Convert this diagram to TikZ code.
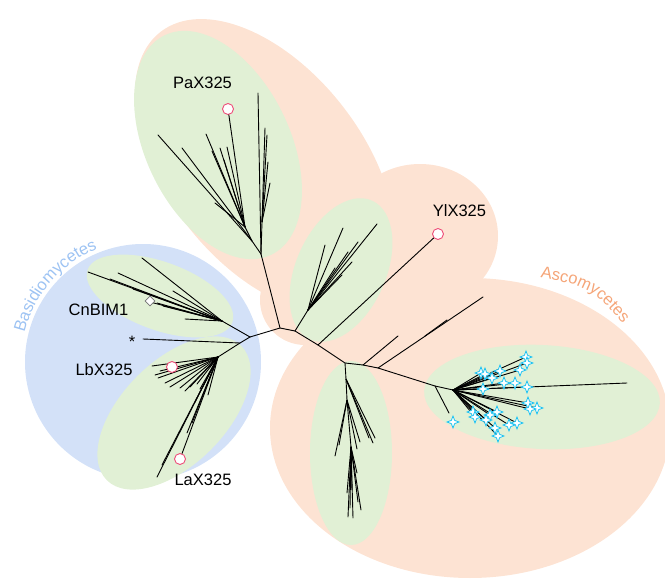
\documentclass[tikz,border=0pt]{standalone}
\usepackage{fontspec}
\setmainfont{Liberation Sans}
\usetikzlibrary{shapes.geometric,decorations.text}
\definecolor{peach}{HTML}{FDE3D3}
\definecolor{leafgreen}{HTML}{E1F0D5}
\definecolor{sky}{HTML}{D3E1F8}
\definecolor{skytext}{HTML}{9DC3F3}
\definecolor{orangetext}{HTML}{F5A578}
\definecolor{pinkring}{HTML}{EE4D78}
\definecolor{starcyan}{HTML}{1CC2F2}
\newcommand{\lblfont}{\fontsize{16.5}{19}\selectfont}
\begin{document}
\begin{tikzpicture}[x=1pt,y=-1pt,
  branch/.style={line width=0.9pt, black, line cap=round},
  ring/.style={circle, draw=pinkring, fill=white, line width=0.9pt, minimum size=11pt, inner sep=0pt},
  astar/.style={star, star points=4, star point ratio=2.6, draw=starcyan, fill=white, line width=0.8pt, minimum size=12pt, inner sep=0pt},
  dmd/.style={diamond, draw=black!55, fill=white, line width=0.6pt, minimum size=10pt, inner sep=0pt},
  lbl/.style={font=\lblfont, inner sep=0pt},
]
\useasboundingbox (0,0) rectangle (665,581);
% ---------- background regions ----------
\begin{scope}[fill=peach]
  \fill[shift={(265,166)}, rotate=-52] (0,0) ellipse [x radius=170, y radius=98];
  \fill (420,236) ellipse [x radius=78, y radius=72];
  \fill (470,428) ellipse [x radius=200, y radius=150];
  \fill (305,300) ellipse [x radius=45, y radius=45];
\end{scope}
\fill[sky] (143,362) circle [radius=118];
\begin{scope}[fill=leafgreen]
  \fill[shift={(218,145)}, rotate=-64] (0,0) ellipse [x radius=122, y radius=72];
  \fill[shift={(341,270)}, rotate=66] (0,0) ellipse [x radius=76, y radius=45];
  \fill (351,453) ellipse [x radius=41, y radius=92];
  \fill[shift={(542,397)}, rotate=-3] (0,0) ellipse [x radius=118, y radius=52];
  \fill[shift={(160,296)}, rotate=-20] (0,0) ellipse [x radius=77, y radius=34];
  \fill[shift={(174,413)}, rotate=45] (0,0) ellipse [x radius=95, y radius=52];
\end{scope}
% ---------- group labels ----------
\path[decorate, decoration={text along path, text align=center,
   text={|\lblfont\color{skytext}|Basidiomycetes}}]
   (143,362) ++(192:122) arc[start angle=192, end angle=250, radius=122];
\path[decorate, decoration={text along path, text align=center,
   text={|\lblfont\color{orangetext}|Ascomycetes}}]
   (531,276) .. controls (590,286) .. (629,331);
% ---------- internal nodes ----------
\coordinate (r1) at (280,328);
\coordinate (r2) at (295,331);
\coordinate (r3) at (318,345);
\coordinate (r4) at (345,363);
\coordinate (r5) at (363,365);
\coordinate (r6) at (378,368);
\coordinate (r7) at (435,386);
\coordinate (r8) at (453,390);
\coordinate (rb) at (425,336);
\coordinate (b0) at (250,337);
\coordinate (b1) at (240,343);
\coordinate (bt) at (222,321);
\coordinate (bb) at (218,357);
\coordinate (pb) at (261,254);
\coordinate (pa) at (252,241);
\coordinate (pa2) at (245,227);
\coordinate (pr) at (262,222);
\coordinate (mb) at (308,310);
\coordinate (d0) at (346,379);
\coordinate (d1) at (347,400);
\coordinate (d2) at (351,447);
% ---------- markers ----------
\node[ring] (pax) at (228,109) {};
\node[ring] (ylx) at (438,234) {};
\node[ring] (lax) at (180,459) {};
% ---------- backbone ----------
\draw[branch] (b0) -- (r1) -- (r2) -- (r3) -- (r4) -- (r5) -- (r6) -- (r7) -- (r8);
\draw[branch] (r1) -- (pb);
\draw[branch] (r2) -- (mb);
\draw[branch] (r3) -- (ylx);
\draw[branch] (r4) -- (d0) -- (d1) -- (d2);
\draw[branch] (r5) -- (398,336);
\draw[branch] (r6) -- (483,297);
\draw[branch] (rb) -- (447,320);
\draw[branch] (r7) -- (449,413);
\draw[branch] (r8) -- (627,383);
\draw[branch] (b0) -- (bt);
\draw[branch] (b0) -- (b1) -- (bb);
\draw[branch] (b1) -- (143,339);
% ---------- PaX clade ----------
\draw[branch] (pb) -- (258,93);
\draw[branch] (pb) -- (pr);
\foreach \p in {(265,128),(267,135),(268,162),(270,183)} \draw[branch] (pr) -- \p;
\draw[branch] (pb) -- (pa) -- (pa2);
\foreach \p in {(158,135),(182,148)} \draw[branch] (pa) -- \p;
\foreach \p in {(206,134),(212,151),(220,148),(227,147),(215,203),(224,160)} \draw[branch] (pa2) -- \p;
\draw[branch] (pa2) -- (pax);
% ---------- middle clade ----------
\foreach \p in {(343,228),(325,245),(377,224),(358,242),(348,252),(335,268),(342,275),(352,262)}
  \draw[branch] (mb) -- \p;
% ---------- lower middle clade ----------
\foreach \p in {(373,443),(375,438),(369,438)} \draw[branch] (d0) -- \p;
\foreach \p in {(335,456),(339,445),(360,442),(357,449)} \draw[branch] (d1) -- \p;
\foreach \p in {(348,517),(353,518),(361,510),(358,502),(347,493),(357,473),(352,490),(350,508)}
  \draw[branch] (d2) -- \p;
% ---------- Basidiomycetes clades ----------
\foreach \p in {(88,272),(118,273),(110,279),(142,258),(133,289),(173,291),(185,319),(157,303),(163,306),(150,302)}
  \draw[branch] (bt) -- \p;
\foreach \p in {(152,366),(155,375),(158,378),(165,383),(170,387),(180,388),(185,391),(190,387),(197,384),(200,389),(160,371)}
  \draw[branch] (bb) -- \p;
\foreach \p in {(157,477),(162,465),(187,433),(192,423),(195,402),(208,395)}
  \draw[branch] (bb) -- \p;
\draw[branch] (bb) -- (lax);
\node[ring] (lbx) at (172,367) {};
\node[dmd] (cn) at (150,301) {};
% ---------- Ascomycete star clade ----------
\foreach \p in {(526,357),(527,363),(520,370),(500,371),(481,373),(485,374),(492,378),(504,383),(515,383),(527,387),(483,389),
                (528,403),(537,408),(530,409),(473,412),(497,412),(490,415),(475,417),(486,420),(509,425),(517,423),(495,428),(498,436)}
  \draw[branch] (r8) -- \p;
\foreach \p [count=\i] in {(526,357),(527,363),(520,370),(500,371),(481,373),(485,374),(492,378),(504,383),(515,383),(527,387),(483,389),
                (528,403),(537,408),(530,409),(473,412),(497,412),(490,415),(475,417),(486,420),(509,425),(517,423),(495,428),(498,436),(453,422)}
  \node[astar] (s\i) at \p {};
% ---------- labels ----------
\node[lbl] (tpax) at (202.5,82.5) {PaX325};
\node[lbl] (tylx) at (459.5,211) {YlX325};
\node[lbl] (tcn) at (98.5,310) {CnBIM1};
\node[lbl, anchor=base] (tstar) at (132,347) {*};
\node[lbl] (tlbx) at (104,370) {LbX325};
\node[lbl] (tlax) at (203,480) {LaX325};
\end{tikzpicture}
\end{document}
